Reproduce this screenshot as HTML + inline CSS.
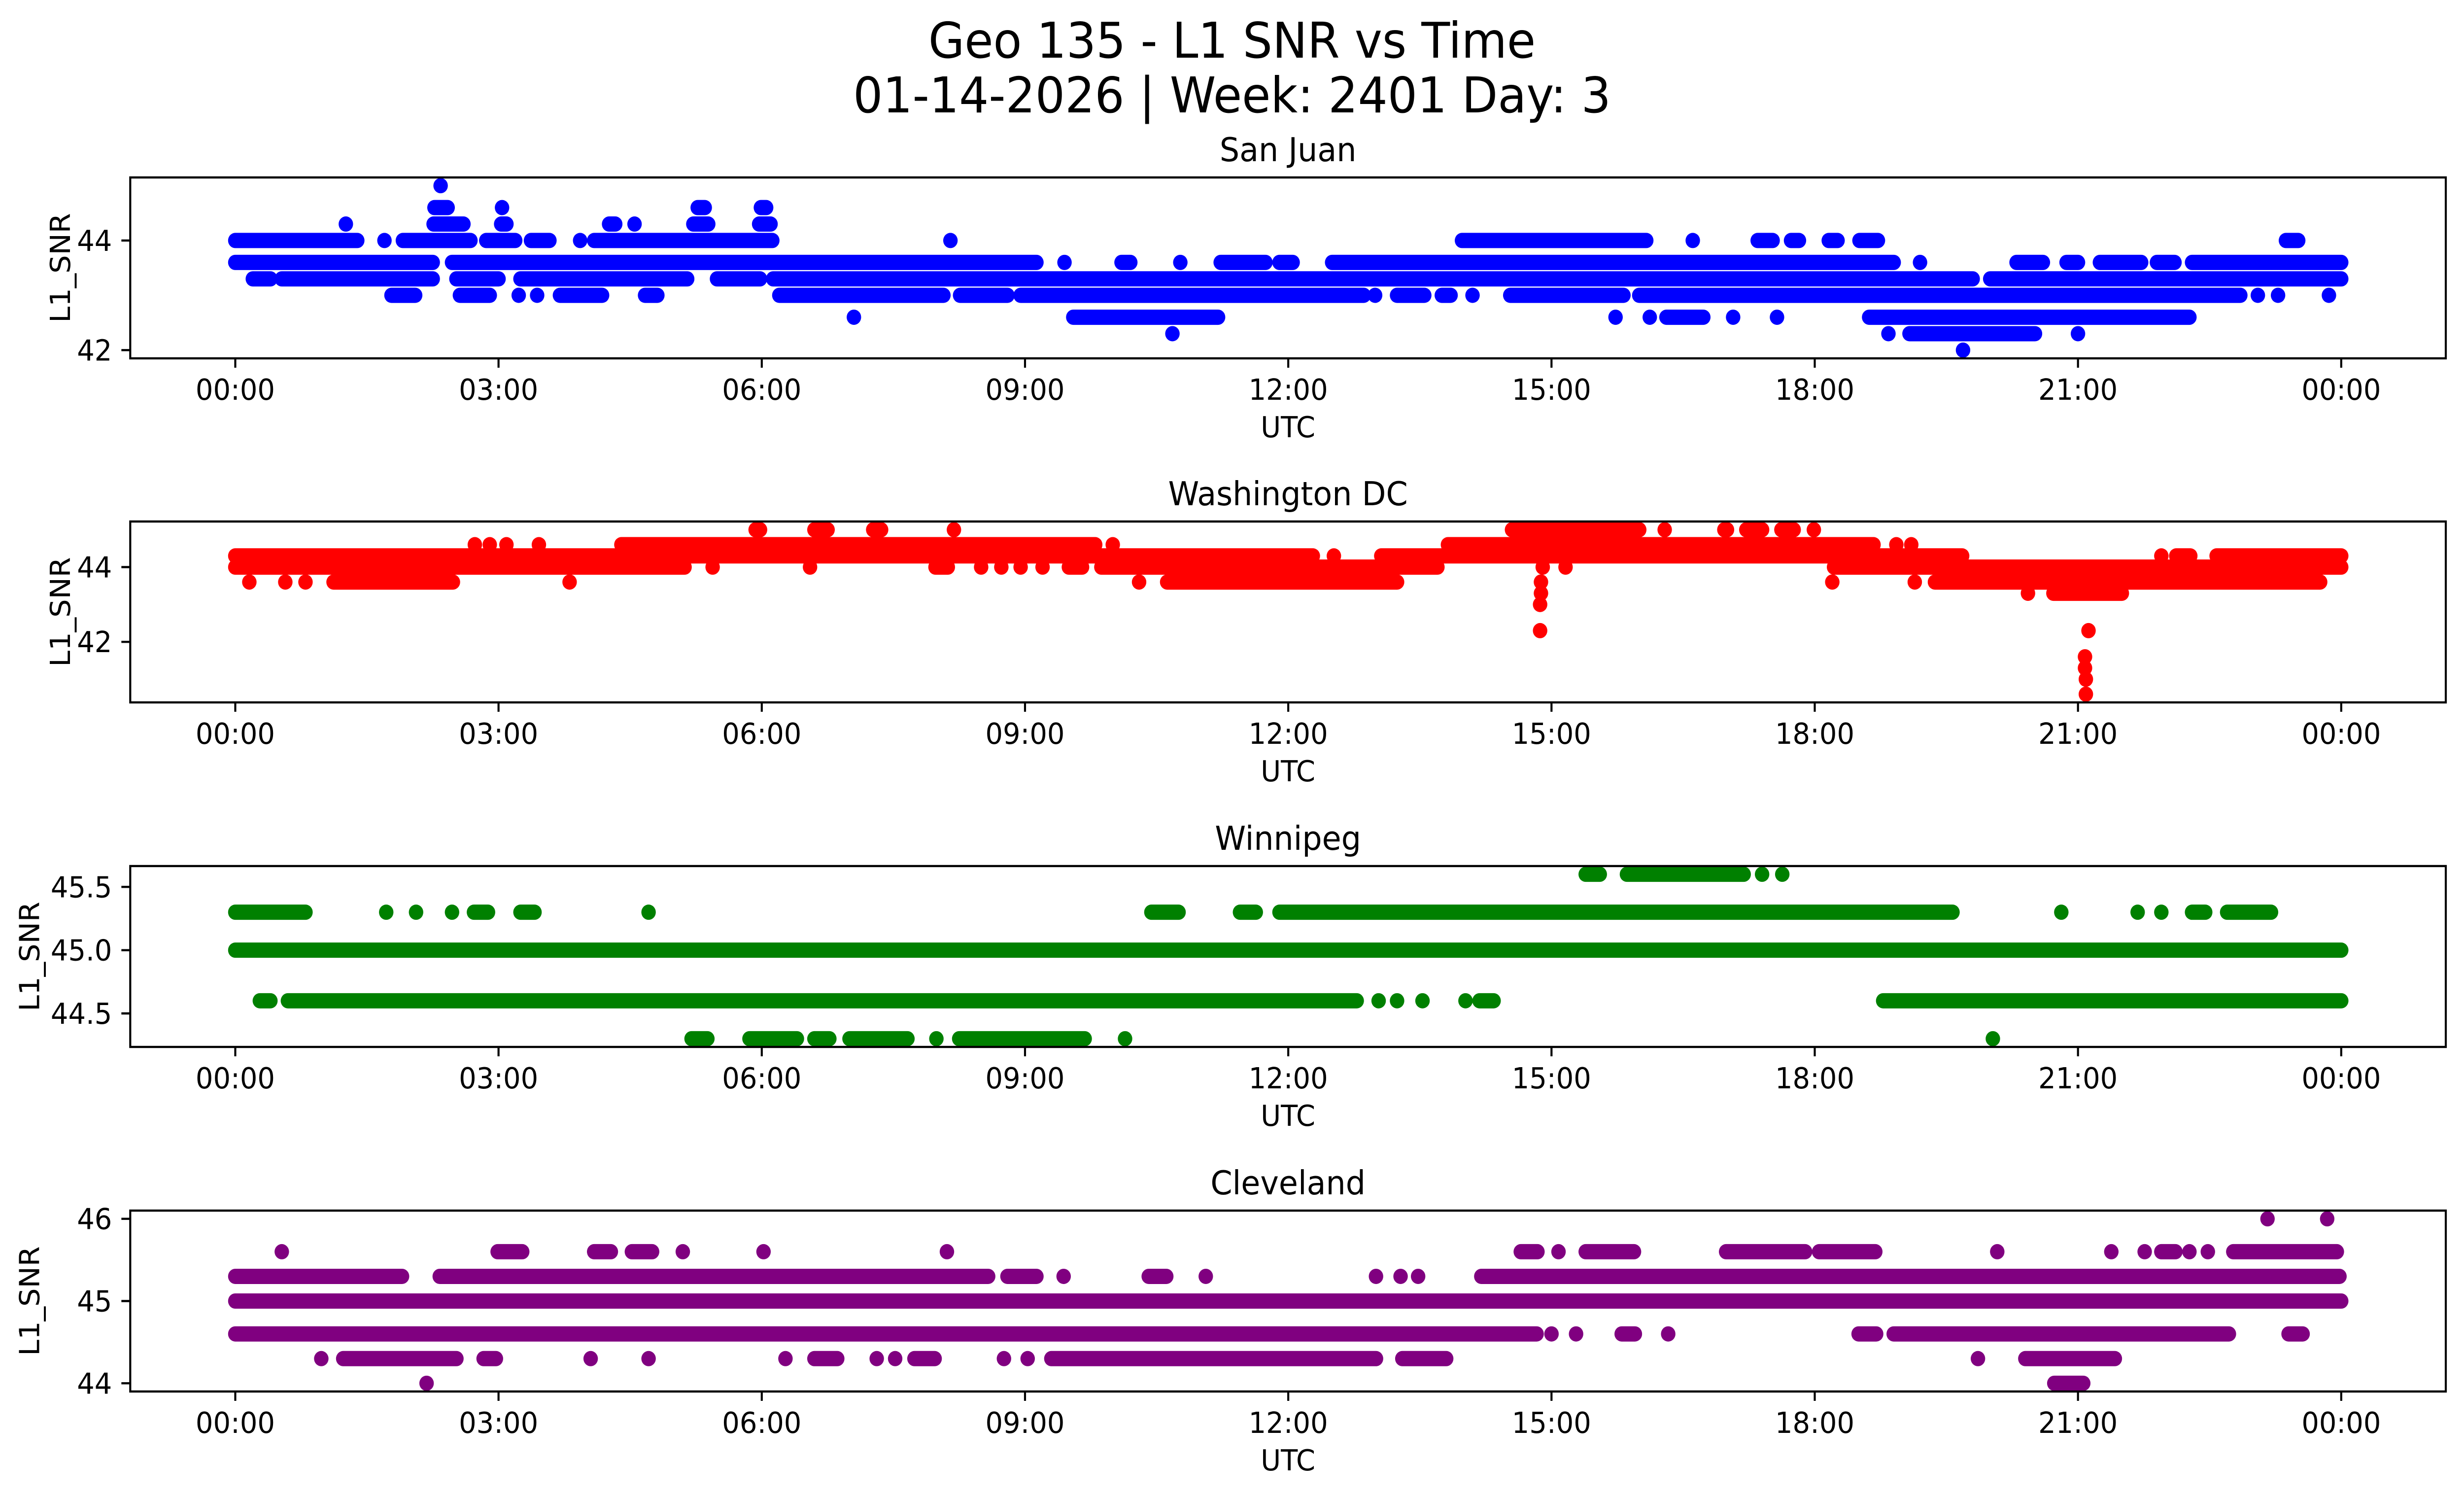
<!DOCTYPE html>
<html><head><meta charset="utf-8"><title>Geo 135 - L1 SNR vs Time</title>
<style>html,body{margin:0;padding:0;background:#fff;overflow:hidden;width:100%;height:100%;}svg{display:block;position:absolute;left:0;top:0;width:100vw;height:100vh;}text{font-family:"DejaVu Sans","Liberation Sans",sans-serif;fill:#000;}</style>
</head><body>
<svg id="fig" xmlns="http://www.w3.org/2000/svg" viewBox="0 0 5278 3033" preserveAspectRatio="none">
<rect width="5278" height="3033" fill="#fff"/>
<text x="2639" y="117" font-size="100" text-anchor="middle">Geo 135 - L1 SNR vs Time</text>
<text x="2639" y="228" font-size="100" text-anchor="middle">01-14-2026 | Week: 2401 Day: 3</text>
</svg>
<script>
// ---- data (hours UTC; runs: [SNR, startHour, endHour] or [SNR, hour]) ----
const stationNames = ["San Juan", "Washington DC", "Winnipeg", "Cleveland"];
const stationColors = ["#0000ff", "#ff0000", "#008000", "#800080"];
const xTickHours = [0, 3, 6, 9, 12, 15, 18, 21, 24];
const xTickLabels = ["00:00","03:00","06:00","09:00","12:00","15:00","18:00","21:00","00:00"];
const sanJuanTicks = [42, 44];
const washingtonTicks = [42, 44];
const winnipegTicks = [44.5, 45.0, 45.5];
const clevelandTicks = [44, 45, 46];
const sanJuanTickLabels = ["42", "44"];
const washingtonTickLabels = ["42", "44"];
const winnipegTickLabels = ["44.5", "45.0", "45.5"];
const clevelandTickLabels = ["44", "45", "46"];

const sanJuanRuns = [
[45.0,2.34],
[44.6,2.27,2.42],[44.6,3.04],[44.6,5.27,5.35],[44.6,5.99,6.05],
[44.3,1.26],[44.3,2.26,2.6],[44.3,3.03,3.09],[44.3,4.26,4.33],[44.3,4.55],[44.3,5.22,5.39],[44.3,5.97,6.1],
[44.0,0,1.39],[44.0,1.7],[44.0,1.91,2.68],[44.0,2.86,3.19],[44.0,3.37,3.58],[44.0,3.93],[44.0,4.09,6.12],[44.0,8.15],[44.0,13.98,16.08],[44.0,16.61],[44.0,17.35,17.52],[44.0,17.73,17.82],[44.0,18.16,18.26],[44.0,18.51,18.72],[44.0,23.37,23.51],
[43.6,0,2.25],[43.6,2.47,9.13],[43.6,9.45],[43.6,10.1,10.2],[43.6,10.77],[43.6,11.23,11.74],[43.6,11.9,12.05],[43.6,12.5,18.9],[43.6,19.2],[43.6,20.3,20.6],[43.6,20.87,21.0],[43.6,21.25,21.72],[43.6,21.9,22.1],[43.6,22.3,24],
[43.3,0.2,0.4],[43.3,0.53,2.25],[43.3,2.52,3.0],[43.3,3.25,5.15],[43.3,5.49,5.98],[43.3,6.13,19.8],[43.3,20.0,24],
[43.0,1.78,2.05],[43.0,2.56,2.9],[43.0,3.23],[43.0,3.44],[43.0,3.7,4.18],[43.0,4.67,4.81],[43.0,6.2,8.07],[43.0,8.26,8.8],[43.0,8.95,12.86],[43.0,12.99],[43.0,13.24,13.55],[43.0,13.75,13.85],[43.0,14.1],[43.0,14.53,15.82],[43.0,16.0,22.85],[43.0,23.05],[43.0,23.28],[43.0,23.86],
[42.6,7.05],[42.6,9.55,11.2],[42.6,15.73],[42.6,16.12],[42.6,16.31,16.73],[42.6,17.07],[42.6,17.57],[42.6,18.62,22.27],
[42.3,10.68],[42.3,18.84],[42.3,19.08,20.51],[42.3,21.0],
[42.0,19.69]
];
const washingtonRuns = [
[45.0,5.93,5.98],[45.0,6.6,6.75],[45.0,7.27,7.36],[45.0,8.19],[45.0,14.55,16.0],[45.0,16.29],[45.0,16.97,17.0],[45.0,17.22,17.4],[45.0,17.62,17.76],[45.0,17.99],
[44.6,2.73],[44.6,2.9],[44.6,3.09],[44.6,3.46],[44.6,4.4,9.8],[44.6,10.0],[44.6,13.82,18.67],[44.6,18.93],[44.6,19.1],
[44.3,0,12.28],[44.3,12.52],[44.3,13.06,19.68],[44.3,21.95],[44.3,22.12,22.28],[44.3,22.58,24],
[44.0,0,5.12],[44.0,5.44],[44.0,6.55],[44.0,7.98,8.12],[44.0,8.5],[44.0,8.73],[44.0,8.95],[44.0,9.2],[44.0,9.5,9.65],[44.0,9.87,13.7],[44.0,14.9],[44.0,15.16],[44.0,18.22,24],
[43.6,0.16],[43.6,0.57],[43.6,0.8],[43.6,1.12,2.48],[43.6,3.81],[43.6,10.3],[43.6,10.62,13.24],[43.6,14.88],[43.6,18.2],[43.6,19.14],[43.6,19.37,23.76],
[43.3,14.88],[43.3,20.43],[43.3,20.72,21.5],
[43.0,14.87],
[42.3,14.87],[42.3,21.12],
[41.6,21.08],[41.3,21.08],[41.0,21.09],[40.6,21.09]
];
const winnipegRuns = [
[45.6,15.39,15.55],[45.6,15.86,17.19],[45.6,17.4],[45.6,17.63],
[45.3,0,0.8],[45.3,1.72],[45.3,2.06],[45.3,2.47],[45.3,2.72,2.88],[45.3,3.25,3.41],[45.3,4.71],[45.3,10.44,10.75],[45.3,11.45,11.63],[45.3,11.9,19.57],[45.3,20.81],[45.3,21.68],[45.3,21.95],[45.3,22.3,22.45],[45.3,22.7,23.2],
[45.0,0,24],
[44.6,0.28,0.4],[44.6,0.6,12.78],[44.6,13.03],[44.6,13.24],[44.6,13.53],[44.6,14.02],[44.6,14.18,14.34],[44.6,18.78,24],
[44.3,5.2,5.38],[44.3,5.86,6.4],[44.3,6.6,6.77],[44.3,7.0,7.66],[44.3,7.99],[44.3,8.25,9.68],[44.3,10.14],[44.3,20.03]
];
const clevelandRuns = [
[46.0,23.16],[46.0,23.84],
[45.6,0.53],[45.6,2.99,3.27],[45.6,4.09,4.28],[45.6,4.52,4.75],[45.6,5.1],[45.6,6.02],[45.6,8.11],[45.6,14.65,14.84],[45.6,15.08],[45.6,15.39,15.94],[45.6,16.99,17.89],[45.6,18.05,18.69],[45.6,20.08],[45.6,21.38],[45.6,21.76],[45.6,21.95,22.11],[45.6,22.27],[45.6,22.48],[45.6,22.77,23.95],
[45.3,0,1.9],[45.3,2.33,8.58],[45.3,8.8,9.13],[45.3,9.44],[45.3,10.41,10.61],[45.3,11.06],[45.3,13.0],[45.3,13.28],[45.3,13.48],[45.3,14.2,23.98],
[45.0,0,24],
[44.6,0,14.83],[44.6,15.0],[44.6,15.28],[44.6,15.8,15.95],[44.6,16.33],[44.6,18.5,18.7],[44.6,18.9,22.72],[44.6,23.4,23.56],
[44.3,0.98],[44.3,1.23,2.52],[44.3,2.83,2.97],[44.3,4.05],[44.3,4.71],[44.3,6.27],[44.3,6.6,6.86],[44.3,7.31],[44.3,7.52],[44.3,7.74,7.97],[44.3,8.76],[44.3,9.03],[44.3,9.3,13.0],[44.3,13.3,13.8],[44.3,19.86],[44.3,20.4,21.42],
[44.0,2.18],[44.0,20.73,21.06]
];

// ---- layout ----
const NS = "http://www.w3.org/2000/svg";
const svg = document.getElementById("fig");
const AX_L = 279, AX_R = 5239, AX_H = 367;
const AX_TOPS = [360, 1058, 1757, 2456];
const X0 = 504, PX_PER_HOUR = (5015 - 504) / 24;
const R = 15.5;
const TICK_FS = 59;
function xScale(h) { return X0 + h * PX_PER_HOUR; }
function mk(tag, attrs, parent) {
  const el = document.createElementNS(NS, tag);
  for (const k in attrs) el.setAttribute(k, attrs[k]);
  (parent || svg).appendChild(el);
  return el;
}
const allRuns = [sanJuanRuns, washingtonRuns, winnipegRuns, clevelandRuns];
const allTicks = [sanJuanTicks, washingtonTicks, winnipegTicks, clevelandTicks];
const allTickLabels = [sanJuanTickLabels, washingtonTickLabels, winnipegTickLabels, clevelandTickLabels];
const ylabelX = [150, 150, 84, 84];

allRuns.forEach(function (runs, i) {
  const top = AX_TOPS[i], bot = top + AX_H;
  const vals = runs.map(function (r) { return r[0]; });
  const mn = Math.min.apply(null, vals), mx = Math.max.apply(null, vals);
  const pad = (mx - mn) * 0.05;
  const lo = mn - pad, hi = mx + pad;
  function yScale(v) { return bot - (v - lo) / (hi - lo) * AX_H; }

  const g = mk("g", {});
  
  

  const pts = mk("g", { fill: stationColors[i], stroke: stationColors[i] }, g);
  
  
  runs.forEach(function (r) {
    const y = yScale(r[0]);
    if (r.length < 3 || r[2] === r[1]) {
      const c = mk("circle", { cx: xScale(r[1]), cy: y, r: R, stroke: "none" }, pts);
      
      
    } else {
      const l = mk("line", { x1: xScale(r[1]), x2: xScale(r[2]), y1: y, y2: y, "stroke-width": 2 * R, "stroke-linecap": "round" }, pts);
      
      
    }
  });

  const frame = mk("rect", { x: AX_L, y: top, width: AX_R - AX_L, height: AX_H, fill: "none", stroke: "#000", "stroke-width": 4.4 }, g);
  
  

  xTickHours.forEach(function (h, k) {
    const x = xScale(h);
    const t = mk("line", { x1: x, x2: x, y1: bot, y2: bot + 19, stroke: "#000", "stroke-width": 4.4 }, g);
    
    
    const tl = mk("text", { x: x, y: bot + 84, "font-size": TICK_FS, "text-anchor": "middle" }, g);
    
    
    tl.textContent = xTickLabels[k];
  });
  allTicks[i].forEach(function (v, k) {
    const y = yScale(v);
    const t = mk("line", { x1: AX_L - 19, x2: AX_L, y1: y, y2: y, stroke: "#000", "stroke-width": 4.4 }, g);
    
    
    const tl = mk("text", { x: AX_L - 39, y: y + 21, "font-size": TICK_FS, "text-anchor": "end" }, g);
    
    
    tl.textContent = allTickLabels[i][k];
  });

  const xl = mk("text", { x: (AX_L + AX_R) / 2, y: bot + 160, "font-size": TICK_FS, "text-anchor": "middle" }, g);
  
  
  xl.textContent = "UTC";

  const cy = top + AX_H / 2;
  const yl = mk("text", { x: ylabelX[i], y: cy, "font-size": TICK_FS, "text-anchor": "middle", transform: "rotate(-90 " + ylabelX[i] + " " + cy + ")" }, g);
  
  
  yl.textContent = "L1_SNR";

  const tt = mk("text", { x: (AX_L + AX_R) / 2, y: top - 33, "font-size": 67, "text-anchor": "middle" }, g);
  
  
  tt.textContent = stationNames[i];
});
</script>
</body></html>
